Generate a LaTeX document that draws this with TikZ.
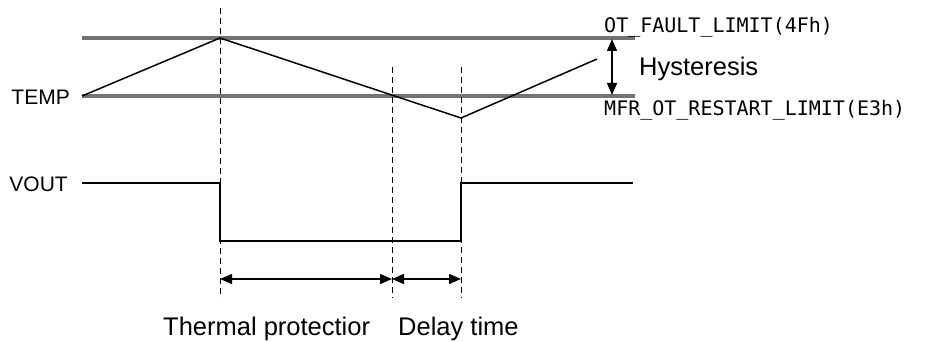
\documentclass[tikz,border=0pt]{standalone}
\usepackage{fontspec}
\setmainfont{Liberation Sans}
\newfontfamily\monofont{DejaVu Sans Mono}
\usetikzlibrary{arrows.meta}
\tikzset{
  limitline/.style={line width=3.2pt, black!55},
  signal/.style={line width=2pt, black},
  guide/.style={line width=1pt, black, dash pattern=on 6pt off 4pt},
  measure/.style={line width=1.3pt, black, {Triangle[length=12pt,width=10pt]}-{Triangle[length=12pt,width=10pt]}},
  lbl/.style={inner sep=0pt, anchor=base west, font=\fontsize{25.5}{30}\selectfont},
  sig/.style={inner sep=0pt, anchor=east, font=\fontsize{21}{25}\selectfont},
  mono/.style={inner sep=0pt, anchor=base west, font=\monofont\fontsize{20}{24}\selectfont}
}
\begin{document}
\begin{tikzpicture}[x=1pt,y=-1pt]
\useasboundingbox (0,0) rectangle (925,342);
% limit lines
\coordinate (hiL) at (82,38);
\coordinate (hiR) at (635,38);
\coordinate (loL) at (82,96);
\coordinate (loR) at (635,96);
\draw[limitline] (hiL) -- (hiR);
\draw[limitline] (loL) -- (loR);
% guides
\coordinate (g1t) at (220,8);
\coordinate (g1b) at (220,298);
\coordinate (g2t) at (392,67);
\coordinate (g2b) at (392,298);
\coordinate (g3t) at (461,67);
\coordinate (g3b) at (461,298);
\draw[guide] (g1t) -- (g1b);
\draw[guide] (g2t) -- (g2b);
\draw[guide] (g3t) -- (g3b);
% temperature
\coordinate (t0) at (82,96);
\coordinate (t1) at (220,38);
\coordinate (t2) at (461,118);
\coordinate (t3) at (597,59);
\draw[line width=1.5pt] (t0) -- (t1) -- (t2) -- (t3);
% vout
\coordinate (v0) at (82,183);
\coordinate (v1) at (220,183);
\coordinate (v2) at (220,241);
\coordinate (v3) at (461,241);
\coordinate (v4) at (461,183);
\coordinate (v5) at (633,183);
\draw[signal] (v0) -- (v1) -- (v2) -- (v3) -- (v4) -- (v5);
% hysteresis arrow
\coordinate (h1) at (612,39);
\coordinate (h2) at (612,95);
\draw[measure] (h1) -- (h2);
% measure arrows
\coordinate (m1) at (220,279);
\coordinate (m2) at (392,279);
\coordinate (m3) at (461,279);
\draw[measure] (m1) -- (m2);
\draw[measure] (m2) -- (m3);
% labels
\node[sig] (temp) at (70,97) {TEMP};
\node[sig] (vout) at (68,184) {VOUT};
\node[mono] (ot) at (604,33) {OT\_FAULT\_LIMIT(4Fh)};
\node[mono] (mfr) at (604,115) {MFR\_OT\_RESTART\_LIMIT(E3h)};
\node[lbl] (hys) at (639,76) {Hysteresis};
\node[lbl] (tp) at (163,335) {Thermal protectior};
\node[lbl] (dt) at (398,335) {Delay time};
\end{tikzpicture}
\end{document}
